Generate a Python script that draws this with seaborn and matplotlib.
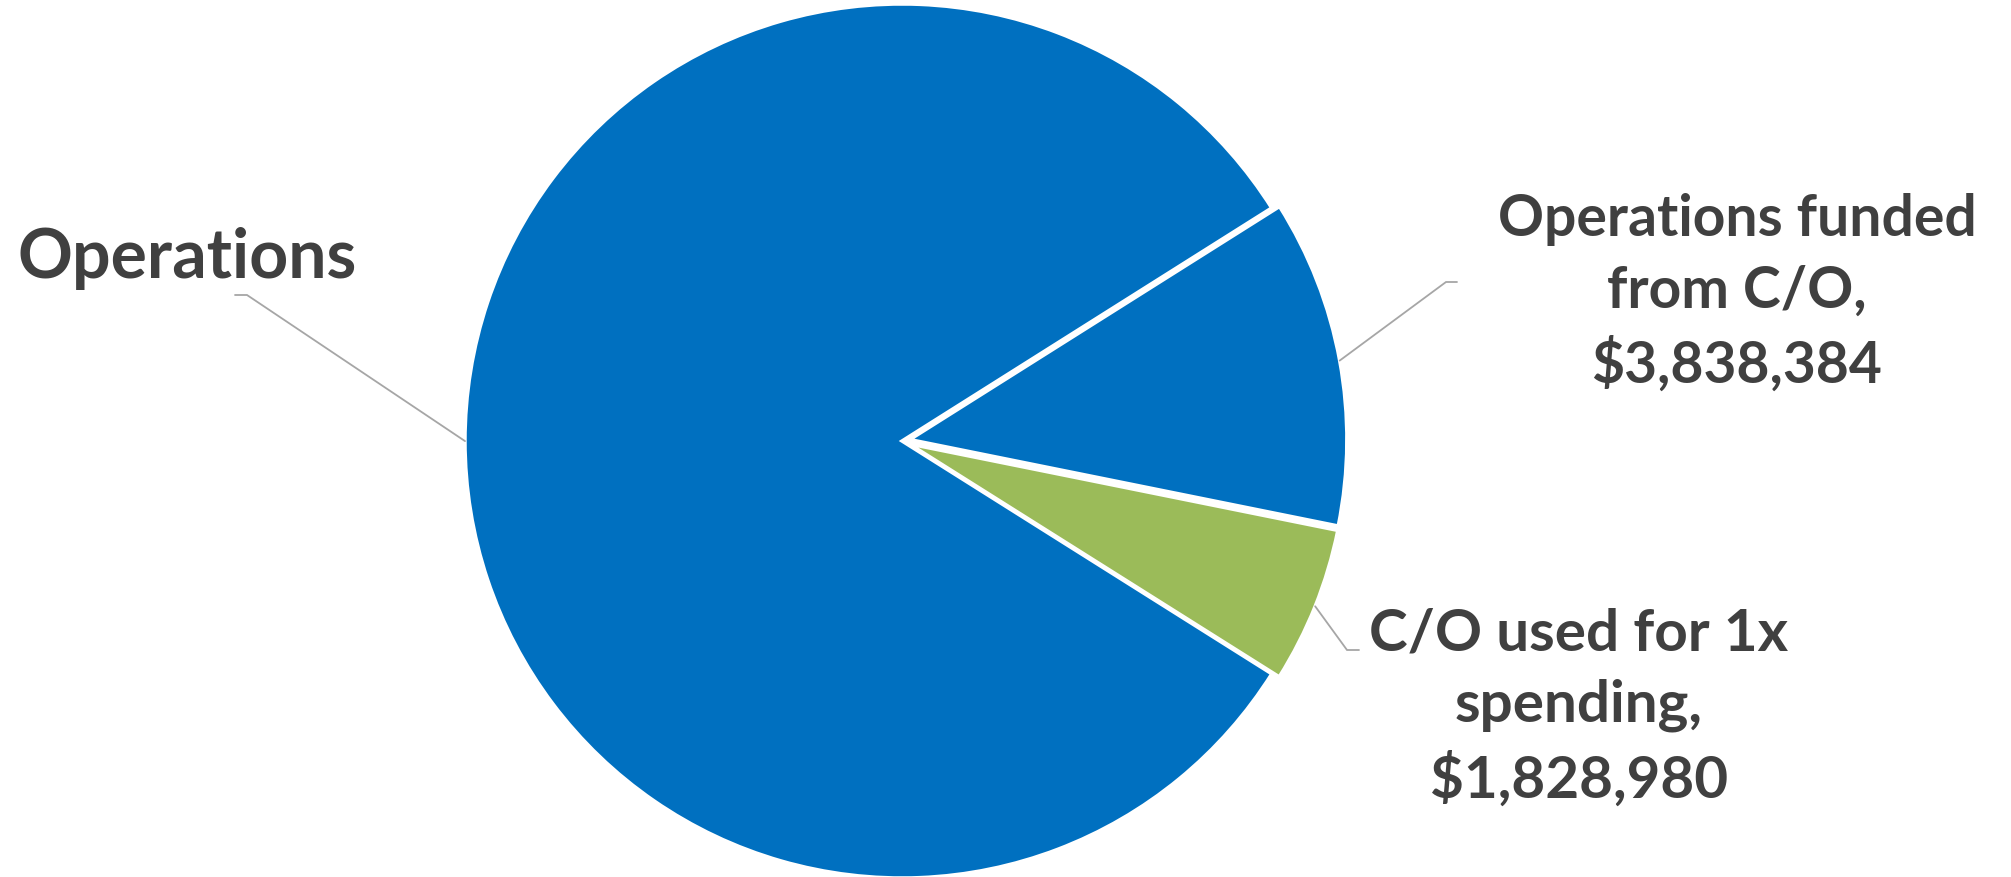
import matplotlib
matplotlib.use("Agg")
import matplotlib.pyplot as plt
import seaborn as sns
import numpy as np

# ---- data ----
categories = ["Operations", "Operations funded from C/O", "C/O used for 1x spending"]
values = [26000000, 3838384, 1828980]
label_texts = ["Operations",
               "Operations funded\nfrom C/O,\n$3,838,384",
               "C/O used for 1x\nspending,\n$1,828,980"]
colors = ["#0070C0", "#0070C0", "#9BBB59"]

# ---- style ----
sns.set_theme(style="white")
plt.rcParams['font.family'] = ['Lato', 'DejaVu Sans']
TEXT_COLOR = "#404040"
LEADER_COLOR = "#A6A6A6"

W, H = 2011, 878
fig = plt.figure(figsize=(W / 100, H / 100), dpi=100)
ax = fig.add_axes([0, 0, 1, 1])

cx, cy, R = 902, H - 442, 437
explode = [0, 8, 8]
wedges, _ = ax.pie(values, colors=colors, startangle=-32.2, counterclock=False,
                   center=(cx, cy), radius=R, explode=explode,
                   wedgeprops=dict(edgecolor="white", linewidth=2.5, joinstyle="miter"))
ax.set_xlim(0, W)
ax.set_ylim(0, H)
ax.set_aspect("equal")
ax.axis("off")

# label layout (pixel coords from top-left): elbow, horizontal end, text anchor
layout = [
    dict(elbow=(247, 296), end=(235, 296), text=(17, 278), ha="left", size=49),
    dict(elbow=(1446, 283), end=(1457, 283), text=(1737, 383), ha="center", size=41),
    dict(elbow=(1347, 651), end=(1359, 651), text=(1579, 798), ha="center", size=42),
]

for w, lab, lay in zip(wedges, label_texts, layout):
    tm = np.deg2rad(0.5 * (w.theta1 + w.theta2))
    wx, wy = w.center
    px = wx + w.r * np.cos(tm)
    py = wy + w.r * np.sin(tm)
    ex, ey = lay["elbow"]
    hx, hy = lay["end"]
    ax.plot([px, ex, hx], [py, H - ey, H - hy], color=LEADER_COLOR, lw=1.3,
            solid_joinstyle="miter", zorder=1)
    tx, ty = lay["text"]
    ax.text(tx, H - ty, lab, ha=lay["ha"], va="baseline", multialignment="center",
            fontsize=lay["size"], fontweight="bold", color=TEXT_COLOR, linespacing=1.42)

fig.savefig("out.png", dpi=100, facecolor="white")
